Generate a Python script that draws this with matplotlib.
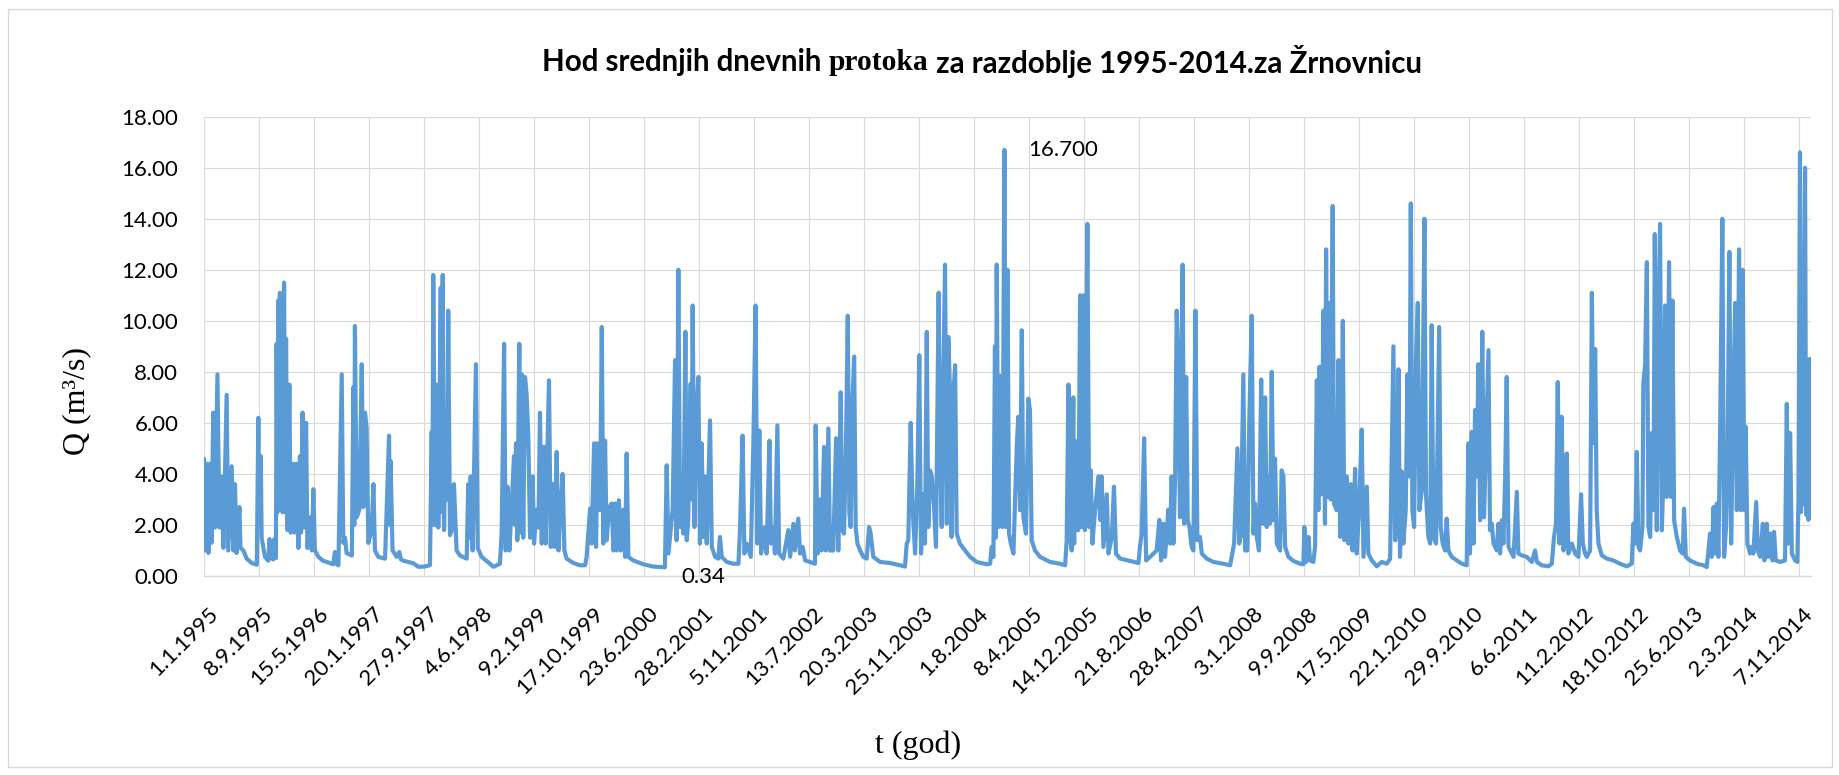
import matplotlib
matplotlib.use("Agg")
import matplotlib.pyplot as plt
from matplotlib.patches import Rectangle
from matplotlib.transforms import ScaledTranslation

# ---- data (day index from 1.1.1995, daily mean discharge in m3/s) ----
day = [0, 6, 12, 20, 27, 34, 42, 50, 61, 70, 80, 88, 103, 110, 126, 133, 141, 148, 161, 166,
       179, 194, 217, 240, 247, 251, 258, 262, 277, 292, 298, 305, 315, 320, 327,
       330, 334, 338, 341, 345, 349, 353, 357, 364, 369, 373, 379, 388, 394, 406, 411, 421, 429,
       436, 441, 448, 455, 464, 470, 482, 490, 497, 504, 520, 540, 558, 588, 595, 600, 611,
       626, 633, 641, 648, 672, 679, 683, 686, 694, 706, 717, 724, 732, 739, 747, 762, 770, 777,
       792, 823, 841, 845, 848, 857, 876, 888, 895, 906, 951, 974, 1000, 1027,
       1035, 1038, 1042, 1050, 1057, 1065, 1076, 1080, 1085, 1091, 1100, 1105, 1110, 1118, 1126,
       1136, 1148, 1164, 1194, 1201, 1206, 1212, 1221, 1236, 1244, 1262, 1300, 1315, 1345, 1353,
       1364, 1371, 1379, 1388, 1398, 1409, 1413, 1418, 1424, 1433, 1439, 1445, 1451, 1459, 1466,
       1474, 1482, 1494, 1500, 1512, 1520, 1527, 1535, 1545, 1553, 1558, 1568, 1576, 1585, 1592,
       1603, 1611, 1618, 1630, 1638, 1648, 1679, 1709, 1732, 1739, 1755, 1762, 1773, 1782, 1788,
       1800, 1808, 1815, 1823, 1830, 1842, 1853, 1861, 1868, 1876, 1886, 1894, 1906, 1914, 1921,
       1929, 1951, 1997, 2042, 2095, 2103, 2111, 2130, 2141, 2148, 2156, 2164, 2171, 2179, 2188,
       2194, 2201, 2212, 2216, 2221, 2229, 2236, 2247, 2254, 2262, 2270, 2277, 2285, 2300, 2308,
       2323, 2338, 2345, 2353, 2376, 2406, 2429, 2436, 2448, 2456, 2467, 2485, 2497, 2507, 2515,
       2524, 2532, 2550, 2557, 2570, 2577, 2588, 2595, 2606, 2614, 2633, 2656, 2664, 2679, 2686,
       2701, 2709, 2721, 2732, 2754, 2777, 2780, 2789, 2800, 2807, 2818, 2826, 2838, 2845, 2860,
       2873, 2883, 2894, 2901, 2909, 2918, 2926, 2933, 2939, 2948, 2955, 2962, 2970, 2982, 2997,
       3012, 3023, 3030, 3042, 3073, 3118, 3164, 3186, 3194, 3201, 3212, 3221, 3232, 3242, 3251,
       3259, 3270, 3277, 3285, 3292, 3300, 3308, 3318, 3327, 3339, 3345, 3353, 3361, 3368, 3376,
       3383, 3391, 3398, 3406, 3414, 3421, 3436, 3459, 3482, 3512, 3558, 3573, 3580, 3588, 3595,
       3599, 3603, 3611, 3618, 3629, 3638, 3645, 3652, 3659, 3667, 3679, 3694, 3701, 3709, 3717,
       3724, 3736, 3747, 3754, 3762, 3777, 3800, 3845, 3891, 3914, 3921, 3929, 3936, 3944, 3951,
       3955, 3959, 3967, 3974, 3982, 3989, 3997, 4004, 4015, 4023, 4030, 4038, 4050, 4065, 4073,
       4080, 4088, 4103, 4111, 4126, 4136, 4145, 4164, 4209, 4247, 4254, 4262, 4273, 4282, 4300,
       4330, 4342, 4350, 4361, 4368, 4383, 4391, 4398, 4406, 4414, 4421, 4429, 4436, 4442, 4448,
       4455, 4464, 4471, 4479, 4489, 4497, 4506, 4515, 4527, 4535, 4558, 4588, 4633, 4664, 4671,
       4682, 4697, 4705, 4712, 4724, 4732, 4742, 4751, 4762, 4770, 4777, 4785, 4795, 4805, 4812,
       4823, 4830, 4838, 4845, 4853, 4861, 4868, 4876, 4891, 4898, 4906, 4914, 4929, 4951, 4982,
       4997, 5001, 5009, 5020, 5027, 5042, 5050, 5058, 5065, 5070, 5079, 5088, 5095, 5100, 5108,
       5115, 5121, 5130, 5136, 5148, 5156, 5164, 5171, 5176, 5183, 5194, 5201, 5212, 5220, 5232,
       5239, 5250, 5262, 5270, 5285, 5292, 5308, 5330, 5353, 5376, 5391, 5406, 5414, 5421, 5429,
       5436, 5444, 5451, 5462, 5470, 5479, 5485, 5492, 5500, 5509, 5517, 5524, 5535, 5547, 5554,
       5565, 5573, 5580, 5588, 5600, 5614, 5621, 5630, 5641, 5648, 5656, 5671, 5694, 5717, 5739,
       5747, 5754, 5762, 5770, 5777, 5785, 5792, 5800, 5810, 5818, 5827, 5838, 5845, 5853, 5861,
       5876, 5883, 5891, 5899, 5906, 5914, 5921, 5929, 5944, 5952, 5967, 5974, 5989, 6012, 6035,
       6050, 6058, 6080, 6111, 6126, 6136, 6145, 6153, 6161, 6171, 6179, 6186, 6194, 6201, 6217,
       6232, 6247, 6259, 6267, 6277, 6285, 6300, 6308, 6315, 6323, 6330, 6338, 6353, 6376, 6406,
       6436, 6467, 6489, 6497, 6505, 6512, 6520, 6527, 6538, 6542, 6550, 6558, 6565, 6573, 6580,
       6588, 6594, 6603, 6609, 6618, 6626, 6633, 6641, 6648, 6659, 6667, 6674, 6682, 6694, 6709,
       6721, 6727, 6735, 6754, 6785, 6815, 6830, 6838, 6845, 6853, 6861, 6868, 6876, 6883, 6891,
       6901, 6909, 6918, 6924, 6933, 6941, 6948, 6959, 6967, 6977, 6985, 6994, 7001, 7007, 7015,
       7027, 7035, 7042, 7055, 7062, 7073, 7085, 7092, 7103, 7110, 7121, 7129, 7136, 7144, 7164,
       7186, 7194, 7201, 7209, 7217, 7232, 7242, 7247, 7254, 7258, 7263, 7268, 7272, 7277, 7282,
       7288, 7292, 7297, 7300, 7304]

q = [4.6, 1.0, 4.4, 0.9, 4.4, 1.3, 6.4, 1.9, 7.9, 1.9, 3.9, 1.1, 7.1, 1.0, 4.3, 1.0, 3.6, 0.9, 2.7, 1.1,
     1.0, 0.68, 0.51, 0.44, 6.2, 2.0, 4.7, 1.5, 0.75, 0.6, 1.45, 0.7, 0.65, 1.45, 0.7,
     9.1, 2.5, 10.8, 3.0, 11.1, 3.0, 9.0, 2.5, 11.5, 2.5, 9.3, 1.8, 7.5, 1.7, 4.4, 1.7, 4.4, 1.1,
     4.7, 1.7, 6.4, 1.9, 6.0, 1.1, 2.3, 1.0, 3.4, 1.0, 0.75, 0.6, 0.55, 0.46, 0.94, 0.5, 0.42,
     7.9, 1.3, 1.5, 0.9, 0.8, 7.4, 2.0, 9.8, 2.3, 2.6, 8.3, 2.7, 6.4, 5.8, 1.3, 1.8, 3.6, 1.0,
     0.75, 0.68, 5.5, 2.0, 4.5, 1.0, 0.75, 0.94, 0.65, 0.6, 0.5, 0.36, 0.37, 0.42,
     5.65, 2.0, 11.8, 2.0, 7.5, 1.9, 11.3, 2.5, 11.8, 1.8, 6.5, 3.0, 10.4, 1.6, 1.8,
     3.6, 1.0, 0.8, 0.68, 3.6, 1.5, 3.9, 1.0, 8.3, 1.1, 0.75, 0.48, 0.36, 0.48, 1.7,
     9.1, 1.0, 3.5, 1.0, 2.7, 4.7, 2.0, 5.2, 1.4, 9.1, 1.7, 7.9, 1.5, 7.8, 7.15,
     5.5, 1.5, 3.9, 1.27, 2.6, 1.9, 6.4, 1.27, 5.06, 1.27, 3.9, 7.67, 1.14, 3.6, 1.14,
     4.86, 1.0, 2.2, 4.0, 1.0, 0.68, 0.51, 0.42, 0.42, 0.75, 2.64, 1.27, 5.2, 1.14, 5.2,
     2.58, 9.76, 1.27, 5.3, 1.4, 2.7, 2.84, 1.0, 2.84, 1.0, 2.97, 1.0, 2.6, 0.75, 4.8,
     0.75, 0.61, 0.46, 0.37, 0.34, 4.34, 0.88, 2.6, 8.46, 1.4, 12.0, 1.92, 3.9, 1.66, 9.57,
     1.4, 2.2, 7.54, 3.0, 10.6, 1.92, 6.0, 7.8, 1.27, 5.2, 1.53, 3.9, 1.27, 6.1, 1.14,
     0.75, 0.68, 1.53, 0.75, 0.55, 0.48, 0.48, 1.8, 5.5, 0.88, 1.27, 0.75, 5.2, 10.6, 1.27,
     5.7, 0.88, 1.92, 0.88, 5.3, 1.27, 1.92, 0.88, 5.9, 0.88, 0.68, 1.8, 0.75, 2.05, 1.0,
     2.25, 0.88, 1.14, 0.61, 0.55, 0.48, 5.9, 0.88, 3.0, 1.0, 5.06, 1.0, 5.78, 1.0, 1.0,
     5.4, 1.0, 7.2, 1.8, 1.66, 5.2, 10.2, 2.5, 1.92, 7.0, 8.6, 1.9, 1.27, 1.0, 0.75,
     0.68, 1.92, 1.66, 0.75, 0.55, 0.51, 0.42, 0.37, 1.27, 1.4, 6.0, 2.58, 0.88, 3.5, 8.65,
     0.88, 3.2, 1.27, 9.57, 1.92, 4.14, 3.9, 2.7, 1.14, 11.1, 5.2, 1.92, 8.1, 12.2, 2.05,
     9.37, 7.15, 1.53, 7.15, 8.26, 1.66, 1.27, 1.0, 0.75, 0.55, 0.46, 0.48, 1.14, 0.75, 9.0,
     1.5, 12.2, 1.92, 7.84, 1.92, 16.7, 1.92, 12.0, 1.66, 1.27, 0.88, 5.06, 6.24, 2.58, 9.63,
     2.3, 1.66, 6.95, 6.5, 1.4, 1.0, 0.75, 0.55, 0.48, 0.42, 1.4, 7.5, 1.53, 1.0, 7.0,
     1.27, 5.3, 1.8, 1.8, 11.0, 1.92, 11.0, 1.8, 13.8, 1.92, 4.14, 1.27, 2.58, 3.9, 2.2,
     3.9, 1.14, 3.2, 0.88, 1.53, 3.5, 0.88, 0.68, 0.59, 0.51, 1.14, 1.66, 5.4, 0.61, 0.75,
     1.0, 2.2, 0.61, 2.05, 0.75, 2.6, 1.27, 3.9, 1.27, 3.9, 10.4, 8.2, 2.3, 7.7, 12.2,
     2.05, 7.8, 2.18, 1.92, 1.14, 1.0, 10.4, 1.4, 1.53, 0.88, 0.68, 0.55, 0.48, 0.42, 0.75,
     1.27, 5.0, 1.27, 1.53, 7.9, 1.0, 1.0, 6.1, 10.2, 1.66, 2.84, 1.53, 1.0, 7.7, 2.05,
     7.0, 1.92, 3.9, 2.05, 8.0, 2.18, 4.6, 1.27, 1.0, 4.14, 3.9, 1.14, 0.75, 0.59, 0.48,
     0.46, 1.92, 0.55, 1.53, 0.61, 0.55, 1.14, 7.67, 2.58, 8.2, 3.2, 10.4, 2.05, 12.8, 3.1,
     10.7, 3.0, 14.5, 2.84, 2.58, 8.46, 1.53, 5.2, 10.0, 1.4, 3.9, 1.27, 3.6, 1.0, 4.2,
     0.88, 2.58, 5.74, 0.75, 3.5, 0.88, 0.61, 0.38, 0.55, 0.48, 0.68, 9.0, 1.4, 1.92, 8.1,
     0.75, 4.1, 1.27, 2.58, 7.9, 3.9, 14.6, 2.58, 1.92, 8.6, 10.7, 2.58, 3.36, 14.0, 3.2,
     1.53, 1.27, 9.83, 1.53, 1.27, 9.76, 1.92, 1.27, 1.0, 2.25, 1.0, 0.75, 0.61, 0.48, 0.42,
     5.2, 0.88, 5.65, 1.27, 6.5, 3.9, 8.3, 2.18, 9.57, 2.3, 5.2, 8.85, 1.8, 2.05, 1.27,
     1.0, 2.05, 0.88, 2.18, 1.27, 3.9, 7.8, 1.14, 0.88, 0.75, 3.3, 0.88, 0.81, 0.75, 0.55,
     1.0, 0.55, 0.42, 0.38, 0.48, 1.53, 2.05, 7.6, 1.27, 6.24, 1.0, 1.53, 4.8, 0.88, 1.27,
     0.88, 0.75, 3.2, 1.27, 0.88, 0.75, 1.0, 11.1, 5.2, 8.9, 2.58, 1.27, 0.81, 0.68, 0.61,
     0.48, 0.38, 0.48, 2.05, 1.27, 4.86, 1.14, 1.0, 1.92, 7.54, 8.3, 12.3, 1.92, 1.53, 5.6,
     2.58, 13.4, 1.79, 9.1, 13.8, 1.79, 3.9, 10.6, 3.1, 12.3, 3.1, 10.8, 2.18, 1.53, 1.0,
     0.88, 2.64, 0.75, 0.61, 0.48, 0.42, 0.35, 1.0, 1.66, 0.75, 2.7, 0.88, 2.84, 0.75, 5.7,
     14.0, 0.75, 1.92, 3.9, 12.7, 1.27, 5.2, 10.7, 2.58, 12.8, 2.58, 12.0, 2.58, 5.85, 1.27,
     0.88, 1.14, 0.88, 2.9, 1.0, 0.75, 2.05, 0.61, 2.05, 0.75, 1.66, 0.61, 1.73, 0.61, 0.55,
     0.61, 6.75, 1.27, 5.6, 0.88, 0.61, 0.55, 3.1, 16.6, 2.5, 12.0, 2.8, 10.0, 16.0, 2.4,
     5.0, 2.2, 8.5, 2.3, 8.5]

tick_labels = ["1.1.1995", "8.9.1995", "15.5.1996", "20.1.1997", "27.9.1997", "4.6.1998",
               "9.2.1999", "17.10.1999", "23.6.2000", "28.2.2001", "5.11.2001", "13.7.2002",
               "20.3.2003", "25.11.2003", "1.8.2004", "8.4.2005", "14.12.2005", "21.8.2006",
               "28.4.2007", "3.1.2008", "9.9.2008", "17.5.2009", "22.1.2010", "29.9.2010",
               "6.6.2011", "11.2.2012", "18.10.2012", "25.6.2013", "2.3.2014", "7.11.2014"]
tick_interval = 250          # one label every 250 days
n_days = 7305                # 1.1.1995 - 31.12.2014
y_ticks = [0, 2, 4, 6, 8, 10, 12, 14, 16, 18]

max_day, max_q, max_label = 3638, 16.7, "16.700"
min_day, min_q, min_label = 2095, 0.34, "0.34"

title_parts = ["Hod srednjih dnevnih ", "protoka", " za razdoblje 1995-2014.za Žrnovnicu"]
ylabel = "Q (m³/s)"
xlabel = "t (god)"

# ---- figure ----
W, H = 1840, 775
fig = plt.figure(figsize=(W / 100, H / 100), dpi=100)
fig.patch.set_facecolor("white")

# chart border
fig.add_artist(Rectangle((8 / W, 1 - 767 / H), (1832 - 8) / W, (767 - 9) / H,
                         transform=fig.transFigure, fill=False, edgecolor="#D9D9D9", lw=1.0))

ax = fig.add_axes([204 / W, 1 - 576 / H, (1811 - 204) / W, (576 - 116.7) / H])
ax.plot(day, q, color="#5B9BD5", lw=3.0, solid_joinstyle="round", solid_capstyle="round",
        zorder=3)

ax.set_xlim(0, n_days - 1)
ax.set_ylim(0, 18)
ax.set_yticks(y_ticks)
ax.set_yticklabels([f"{v:.2f}" for v in y_ticks], fontfamily="Lato", fontsize=16)
ax.set_xticks([i * tick_interval for i in range(len(tick_labels))])
ax.set_xticklabels(tick_labels, fontfamily="Lato", fontsize=16, rotation=45,
                   ha="right", va="center", rotation_mode="anchor")
ax.tick_params(axis="y", length=0, pad=18.5)
ax.tick_params(axis="x", length=0, pad=25)
off = ScaledTranslation(8 / 72, 0, fig.dpi_scale_trans)
for lab in ax.get_xticklabels():
    lab.set_transform(lab.get_transform() + off)

ax.grid(True, color="#D9D9D9", lw=0.8, zorder=0)
ax.set_axisbelow(True)
for s in ["top", "right", "left"]:
    ax.spines[s].set_visible(False)
ax.spines["bottom"].set_color("#D9D9D9")
ax.spines["bottom"].set_linewidth(1.0)

# data labels
ax.annotate(max_label, (max_day, max_q), xytext=(17, 0), textcoords="offset points",
            ha="left", va="center", fontfamily="Lato", fontsize=16, zorder=4)
ax.annotate(min_label, (min_day, min_q), xytext=(12, -7), textcoords="offset points",
            ha="left", va="center", fontfamily="Lato", fontsize=16, zorder=4,
            annotation_clip=False)

# axis titles
fig.text(77 / W, 1 - 401 / H, ylabel, rotation=90, ha="center", va="center",
         fontfamily="Liberation Serif", fontsize=23)
fig.text(918 / W, 1 - 745 / H, xlabel, ha="center", va="center",
         fontfamily="Liberation Serif", fontsize=23)

# title in three runs (sans / serif / sans), fitted to the reference width
fams = ["Lato", "Liberation Serif", "Lato"]
renderer = fig.canvas.get_renderer()
size = 17
texts = [fig.text(0, 0, t, fontfamily=f, fontweight="bold", fontsize=size)
         for t, f in zip(title_parts, fams)]
widths = [t.get_window_extent(renderer).width for t in texts]
scale = 886 / sum(widths)
size *= scale
for t in texts:
    t.set_fontsize(size)
widths = [t.get_window_extent(renderer).width for t in texts]
x = 982 - sum(widths) / 2
for t, w in zip(texts, widths):
    t.set_position((x / W, 1 - 59 / H))
    t.set_va("center_baseline")
    x += w

fig.savefig("out.png", dpi=100, facecolor="white")
